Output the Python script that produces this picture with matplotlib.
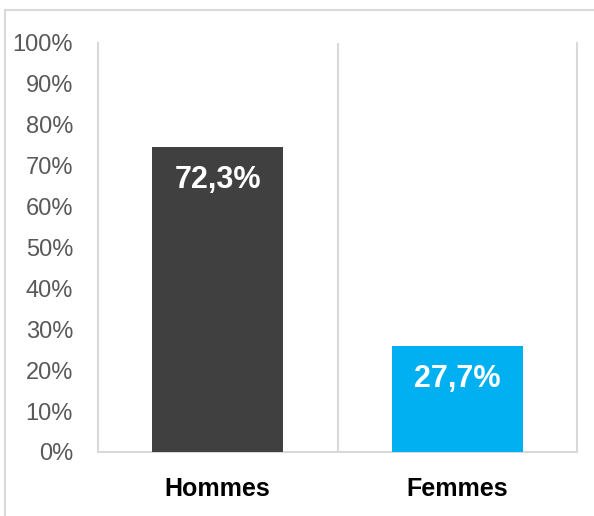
import matplotlib
matplotlib.use("Agg")
import matplotlib.pyplot as plt
from matplotlib.lines import Line2D

categories = ["Hommes", "Femmes"]
bar_heights = [74.6, 25.9]          # heights as drawn in the picture
bar_labels = ["72,3%", "27,7%"]
bar_colors = ["#404040", "#00B0F0"]
yticks = [0, 10, 20, 30, 40, 50, 60, 70, 80, 90, 100]
ytick_labels = [f"{v}%" for v in yticks]

W, H = 594, 516
fig = plt.figure(figsize=(W / 100, H / 100), dpi=100)
ax = fig.add_axes([98 / W, 1 - 452 / H, (577 - 98) / W, (452 - 42.5) / H])

x = list(range(len(categories)))
bars = ax.bar(x, bar_heights, width=0.547, color=bar_colors, zorder=3)

ax.set_xlim(-0.5, len(categories) - 0.5)
ax.set_ylim(0, 100)
ax.set_yticks(yticks)
ax.set_yticklabels(ytick_labels, fontfamily="Liberation Sans", fontsize=17, color="#595959")
ax.tick_params(axis="y", length=0, pad=18)
ax.set_xticks(x)
ax.set_xticklabels(categories, fontfamily="Liberation Sans", fontsize=18,
                   fontweight="bold", color="black")
ax.tick_params(axis="x", length=0, pad=18)

grid_c = "#d9d9d9"
ax.spines["top"].set_visible(False)
for s in ["left", "bottom", "right"]:
    ax.spines[s].set_color(grid_c)
    ax.spines[s].set_linewidth(1.5)
# category separators
for i in range(len(categories) - 1):
    ax.axvline(i + 0.5, color=grid_c, lw=1.5, zorder=1)

for b, lab in zip(bars, bar_labels):
    ax.annotate(lab, (b.get_x() + b.get_width() / 2, b.get_height()),
                xytext=(0, -33), textcoords="offset pixels",
                ha="center", va="center", color="white",
                fontfamily="Liberation Sans", fontweight="bold", fontsize=22, zorder=4)

# outer chart border
fig.add_artist(Line2D([5 / W, 5 / W], [0, 1 - 10 / H], transform=fig.transFigure,
                      color=grid_c, lw=1.5))
fig.add_artist(Line2D([5 / W, 1], [1 - 10 / H, 1 - 10 / H], transform=fig.transFigure,
                      color=grid_c, lw=1.5))

fig.savefig("out.png", dpi=100, facecolor="white")
